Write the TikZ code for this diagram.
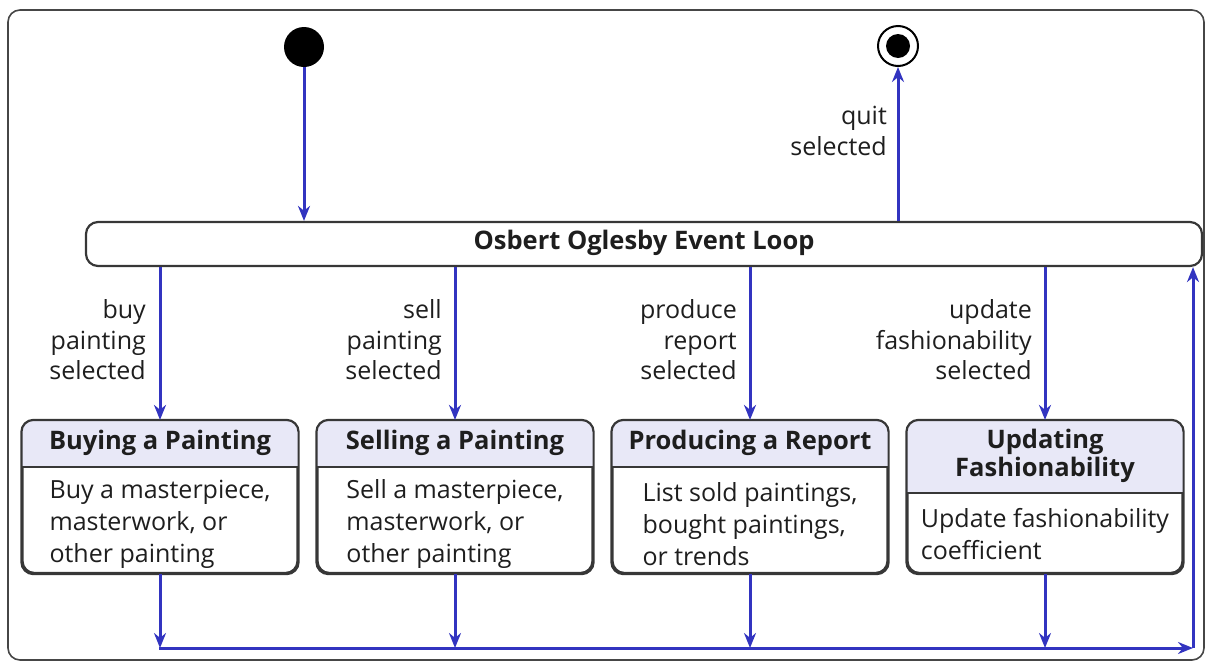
\documentclass[tikz,border=0pt]{standalone}
\usepackage{fontspec}
\setmainfont{Open Sans}
\usetikzlibrary{arrows.meta}
\definecolor{flow}{RGB}{50,52,192}
\definecolor{ink}{RGB}{30,30,30}
\definecolor{headfill}{RGB}{232,232,247}
\definecolor{edge}{RGB}{55,55,55}
\definecolor{framegray}{RGB}{70,70,70}
\begin{document}
\begin{tikzpicture}[x=1pt,y=-1pt,
  flowarrow/.style={draw=flow, line width=3pt, -{Stealth[length=15pt,width=12pt]}},
  statebox/.style={draw=edge, line width=2.2pt, rounded corners=12pt, minimum width=275pt, minimum height=152pt, inner sep=0pt},
  headtext/.style={font=\fontsize{25.5}{28}\selectfont\bfseries, text=ink, align=center, inner sep=0pt},
  bodytext/.style={font=\fontsize{25}{32}\selectfont, text=ink, align=left, inner sep=0pt},
  trigger/.style={font=\fontsize{25}{30.5}\selectfont, text=ink, align=right, inner sep=0pt, anchor=east}
]
\useasboundingbox (0,0) rectangle (1206,662);
% outer frame
\draw[framegray, line width=1.6pt, rounded corners=12pt] (8,10) rectangle (1204,660);

% initial and final states
\node[circle, fill=black, minimum size=40pt, inner sep=0pt] (init) at (304,47) {};
\node[circle, draw=black, line width=2pt, fill=white, minimum size=40pt, inner sep=0pt] (final) at (898,46) {};
\node[circle, fill=black, minimum size=24pt, inner sep=0pt] (finaldot) at (898,46) {};

% event loop
\node[draw=edge, line width=2.2pt, rounded corners=12pt, minimum width=1116pt, minimum height=44pt, inner sep=0pt] (loop) at (644,244) {};
\node[headtext] (looptext) at (644,243) {Osbert Oglesby Event Loop};

% activity states
\node[statebox] (buy) at (160,497) {};
\node[statebox] (sell) at (455,497) {};
\node[statebox] (report) at (750,497) {};
\node[statebox] (fashion) at (1045,497) {};

% header bands
\foreach \s/\d in {buy/467, sell/467, report/467, fashion/493} {
  \begin{scope}
    \clip[rounded corners=12pt] (\s.north west) rectangle (\s.south east);
    \fill[headfill] (\s.north west) rectangle (\s.east |- 0,\d);
  \end{scope}
  \draw[edge, line width=2.2pt] (\s.west |- 0,\d) -- (\s.east |- 0,\d);
  \draw[edge, line width=2.2pt, rounded corners=12pt] (\s.north west) rectangle (\s.south east);
}

\node[headtext] (buyhead) at (160,443) {Buying a Painting};
\node[headtext] (sellhead) at (455,443) {Selling a Painting};
\node[headtext] (reporthead) at (750,443) {Producing a Report};
\node[headtext] (fashionhead) at (1045,456) {Updating\\Fashionability};

\node[bodytext] (buybody) at (160,524) {Buy a masterpiece,\\masterwork, or\\other painting};
\node[bodytext] (sellbody) at (455,524) {Sell a masterpiece,\\masterwork, or\\other painting};
\node[bodytext] (reportbody) at (750,524) {List sold paintings,\\bought paintings,\\or trends};
\node[bodytext] (fashionbody) at (1045,534) {Update fashionability\\coefficient};

% transitions
\draw[flowarrow] (init) -- (init |- loop.north);
\draw[flowarrow] (final |- loop.north) -- (final);
\node[trigger] (quitlabel) at (887,131) {quit\\selected};

\draw[flowarrow] (buy |- loop.south) -- (buy.north);
\draw[flowarrow] (sell |- loop.south) -- (sell.north);
\draw[flowarrow] (report |- loop.south) -- (report.north);
\draw[flowarrow] (fashion |- loop.south) -- (fashion.north);

\node[trigger] (buylabel) at (146,340) {buy\\painting\\selected};
\node[trigger] (selllabel) at (442,340) {sell\\painting\\selected};
\node[trigger] (reportlabel) at (737,340) {produce\\report\\selected};
\node[trigger] (fashionlabel) at (1032,340) {update\\fashionability\\selected};

% return to the event loop
\coordinate (busleft) at (159,648);
\coordinate (busright) at (1193,648);
\draw[flowarrow] (buy.south) -- (buy |- busleft);
\draw[flowarrow] (sell.south) -- (sell |- busleft);
\draw[flowarrow] (report.south) -- (report |- busleft);
\draw[flowarrow] (fashion.south) -- (fashion |- busleft);
\draw[flowarrow] (busleft) -- (busright);
\draw[flowarrow] (busright) -- (busright |- loop.south);
\end{tikzpicture}
\end{document}
